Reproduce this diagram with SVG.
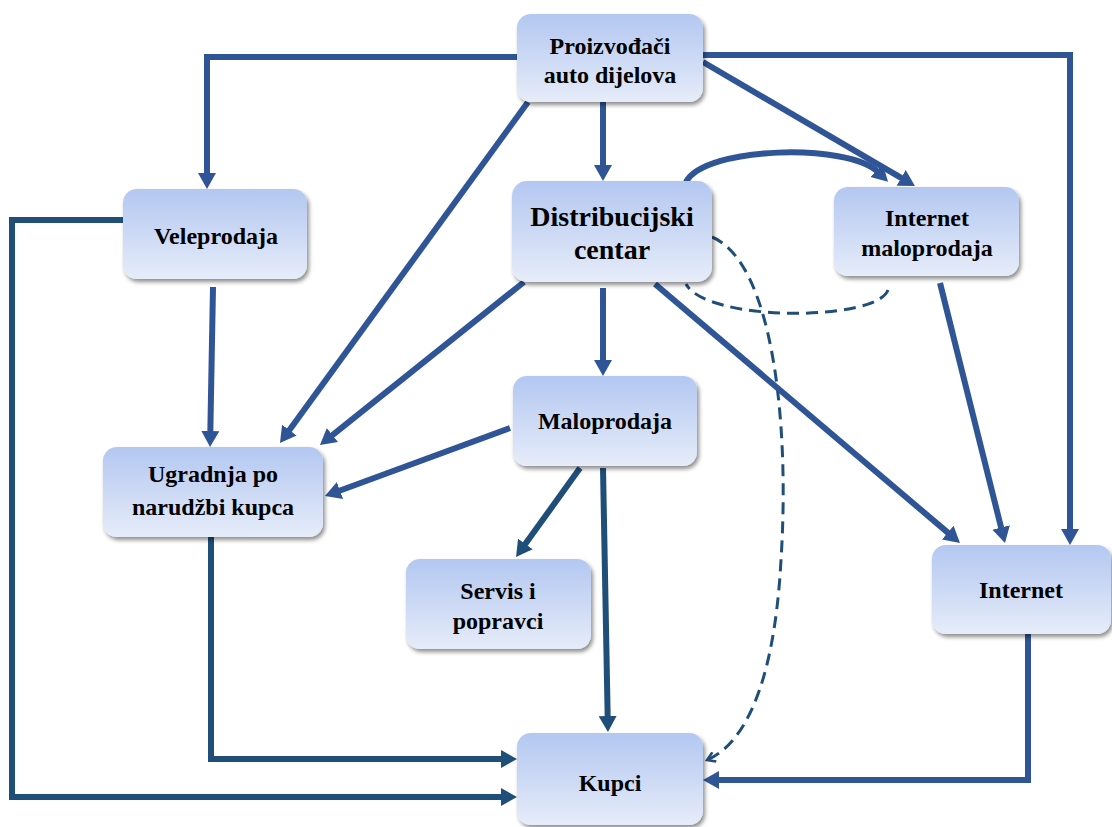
<svg xmlns="http://www.w3.org/2000/svg" width="1112" height="827" viewBox="0 0 1112 827">
<defs>
<linearGradient id="g" x1="0" y1="0" x2="0" y2="1">
<stop offset="0" stop-color="#b3c7f1"/>
<stop offset="1" stop-color="#e6ecf9"/>
</linearGradient>
<filter id="sh" x="-10%" y="-10%" width="125%" height="130%">
<feGaussianBlur in="SourceAlpha" stdDeviation="2"/>
<feOffset dx="2" dy="3" result="o"/>
<feComponentTransfer><feFuncA type="linear" slope="0.45"/></feComponentTransfer>
<feMerge><feMergeNode/><feMergeNode in="SourceGraphic"/></feMerge>
</filter>
<marker id="ab" markerUnits="userSpaceOnUse" markerWidth="18" markerHeight="20" refX="2" refY="10" orient="auto">
<path d="M0,1 L16,10 L0,19 z" fill="#2f5597"/>
</marker>
<marker id="ad" markerUnits="userSpaceOnUse" markerWidth="18" markerHeight="20" refX="2" refY="10" orient="auto">
<path d="M0,1 L16,10 L0,19 z" fill="#1f4e79"/>
</marker>
<marker id="as" markerUnits="userSpaceOnUse" markerWidth="12" markerHeight="12" refX="9" refY="6" orient="auto">
<path d="M1,1 L9,6 L1,11" fill="none" stroke="#1f4e79" stroke-width="2.5"/>
</marker>
</defs>
<style>
.n rect{fill:url(#g);filter:url(#sh);}
.n text{font-family:"Liberation Serif","Times New Roman",serif;font-weight:bold;font-size:24px;fill:#000;text-anchor:middle;}
.b{fill:none;stroke:#2f5597;stroke-width:6;marker-end:url(#ab);}
.d{fill:none;stroke:#1f4e79;stroke-width:6;marker-end:url(#ad);}
.ds{fill:none;stroke:#1f4e79;stroke-width:3;stroke-dasharray:12 7;}
</style>
<rect width="1112" height="827" fill="#fff"/>
<g id="connectors">
<path class="b" d="M517,57 H207 V175"/>
<path class="b" d="M528,102 L288.2,431.7"/>
<path class="b" d="M603,102 V167"/>
<path class="b" d="M703,62 L902.9,178.9"/>
<path class="b" d="M703,55 H1070 V531"/>
<path class="b" d="M686,182 C705,146 848,143 878,172"/>
<path class="ds" d="M888,290 C876,322 706,322 686,284"/>
<path class="ds" d="M712,237 C772,262 790,420 781,560 C774,690 742,745 707,760" marker-end="url(#as)"/>
<path class="b" d="M213,287 L210.3,433"/>
<path class="d" d="M123,220 H12 V797 H503"/>
<path class="b" d="M524,282 L330.9,436.3"/>
<path class="b" d="M603,288 V362"/>
<path class="b" d="M655,284 L949.3,533.9"/>
<path class="b" d="M940,283 L1001.6,529.4"/>
<path class="b" d="M510,428 L338.1,491.2"/>
<path class="d" d="M580,468 L524.2,545.6"/>
<path class="d" d="M603,468 L607.7,718"/>
<path class="d" d="M211,537 V759 H503"/>
<path class="b" d="M1028,634 V780 H717"/>
</g>
<g id="proizvodjaci" class="n"><rect x="517" y="14" width="186" height="88" rx="14"/><text x="610" y="54">Proizvođači</text><text x="610" y="83">auto dijelova</text></g>
<g id="veleprodaja" class="n"><rect x="123" y="189" width="184" height="90" rx="14"/><text x="216" y="244">Veleprodaja</text></g>
<g id="distribucijski" class="n"><rect x="512" y="181" width="200" height="101" rx="15"/><text x="612" y="226" style="font-size:28px">Distribucijski</text><text x="612" y="259" style="font-size:28px">centar</text></g>
<g id="internet-maloprodaja" class="n"><rect x="834" y="187" width="185" height="89" rx="14"/><text x="927" y="226">Internet</text><text x="927" y="256">maloprodaja</text></g>
<g id="ugradnja" class="n"><rect x="103" y="447" width="220" height="90" rx="14"/><text x="213" y="482">Ugradnja po</text><text x="213" y="515">narudžbi kupca</text></g>
<g id="maloprodaja" class="n"><rect x="513" y="376" width="184" height="90" rx="14"/><text x="605" y="429">Maloprodaja</text></g>
<g id="servis" class="n"><rect x="406" y="559" width="185" height="90" rx="14"/><text x="498" y="599">Servis i</text><text x="498" y="629">popravci</text></g>
<g id="internet" class="n"><rect x="932" y="545" width="179" height="89" rx="14"/><text x="1021" y="598">Internet</text></g>
<g id="kupci" class="n"><rect x="517" y="733" width="186" height="92" rx="14"/><text x="610" y="791">Kupci</text></g>
</svg>
